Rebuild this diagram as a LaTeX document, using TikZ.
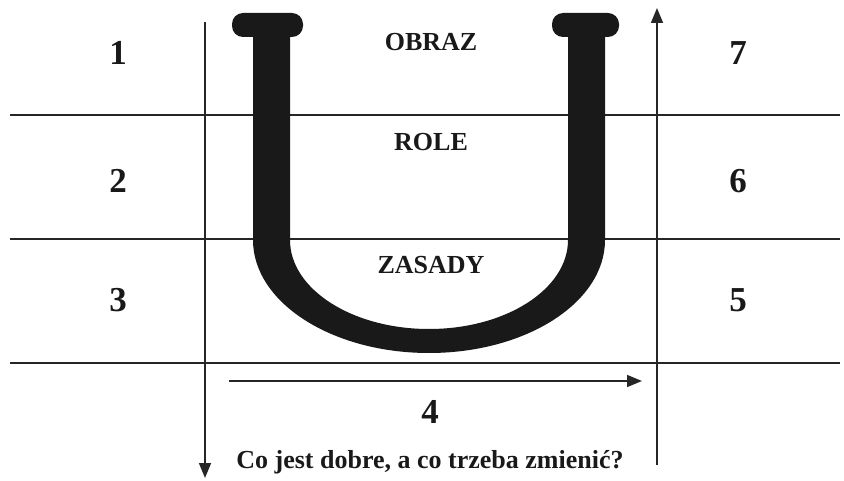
\documentclass[tikz,border=0pt]{standalone}
\usepackage{fontspec}
\setmainfont{Liberation Serif}
\usetikzlibrary{arrows.meta,positioning}

\begin{document}
\begin{tikzpicture}[x=1pt,y=-1pt]
        \tikzstyle{rule}=[line width=1.6pt, draw=black!85]
        \tikzstyle{connect}=[-{Triangle[length=15pt,width=12pt]}, line width=1.6pt, draw=black!85]
        \tikzstyle{num}=[inner sep=0pt, font=\fontsize{35}{35}\selectfont\bfseries, text=black!90]
        \tikzstyle{word}=[inner sep=0pt, font=\fontsize{26}{26}\selectfont\bfseries, text=black!90]
        \useasboundingbox (0,0) rectangle (844,481);
        % grid rows
        \foreach \y in {115,239,363}
          \draw[rule] (10,\y) -- (840,\y);
        % the U
        \fill[black!90] (253,30) -- (253,240)
          arc[start angle=180, end angle=0, x radius=176, y radius=113]
          -- (605,30) -- (568,30) -- (568,240)
          arc[start angle=0, end angle=180, x radius=139, y radius=89]
          -- (290,30) -- cycle;
        \fill[black!90, rounded corners=11pt] (232,13) rectangle (303,37);
        \fill[black!90, rounded corners=11pt] (552,13) rectangle (619,37);
        % axes
        \coordinate (ltop) at (205,22);
        \coordinate (lbot) at (205,478);
        \coordinate (rbot) at (657,465);
        \coordinate (rtop) at (657,8);
        \coordinate (hstart) at (229,381);
        \coordinate (hend) at (642,381);
        \draw[connect] (ltop) -- (lbot);
        \draw[connect] (rbot) -- (rtop);
        \draw[connect] (hstart) -- (hend);
        % labels
        \node[num] (one) at (118,53) {1};
        \node[num] (two) at (118,181) {2};
        \node[num] (three) at (118,300) {3};
        \node[num] (seven) at (738,53) {7};
        \node[num] (six) at (738,181) {6};
        \node[num] (five) at (738,300) {5};
        \node[num] (four) at (430,412) {4};
        \node[word] (obraz) at (431,42) {OBRAZ};
        \node[word] (role) at (431,142) {ROLE};
        \node[word] (zasady) at (431,265) {ZASADY};
        \node[word] (question) [below=27pt of four] {Co jest dobre, a co trzeba zmienić?};
\end{tikzpicture}
\end{document}
